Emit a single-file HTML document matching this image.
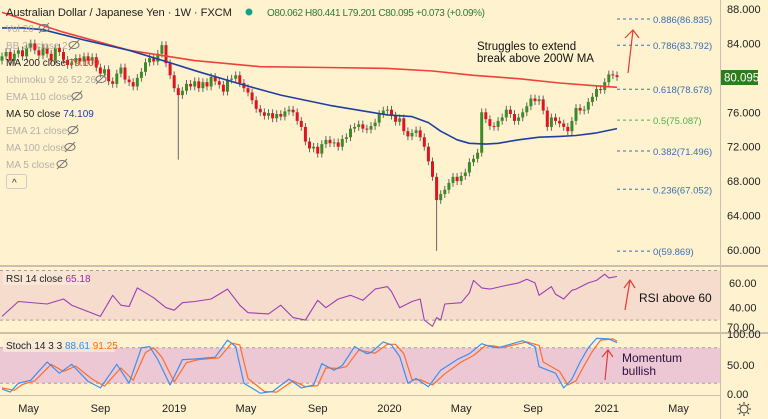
<!DOCTYPE html>
<html><head><meta charset="utf-8"><style>
html,body{margin:0;padding:0;background:#fff3cf;}
svg{display:block;font-family:"Liberation Sans",sans-serif;}
</style></head><body>
<svg id="c" width="768" height="419" viewBox="0 0 768 419">
<rect x="0" y="0" width="768" height="419" fill="#fff3cf"/>
<g id="bands"></g>
<g id="candles"></g>
<g id="lines"></g>
<g id="fib"></g>
<line x1="0" y1="266" x2="768" y2="266" stroke="#b8b0a0" stroke-width="1.5"/>
<line x1="0" y1="333" x2="768" y2="333" stroke="#b8b0a0" stroke-width="1.5"/>
<line x1="0" y1="395.5" x2="721" y2="395.5" stroke="#c8c0b0"/>
<line x1="720.5" y1="0" x2="720.5" y2="419" stroke="#c8c0b0"/>
<g id="axis" font-size="11" fill="#222"></g>
<g font-size="10">
<text x="6" y="16" font-size="11.2" fill="#222" textLength="226">Australian Dollar / Japanese Yen · 1W · FXCM</text>
<circle cx="249" cy="12" r="3.5" fill="#1a9e8a"/>
<text x="267" y="16" font-size="10" fill="#2e7d32" textLength="218">O80.062 H80.441 L79.201 C80.095 +0.073 (+0.09%)</text>
<text x="6" y="32" fill="#b5b0a8">Vol 20</text>
<text x="6" y="49" fill="#b5b0a8">BB 20 close 2</text>
<text x="6" y="66" fill="#222">MA 200 close <tspan fill="#e53935">79.109</tspan></text>
<text x="6" y="83" fill="#b5b0a8">Ichimoku 9 26 52 26</text>
<text x="6" y="100" fill="#b5b0a8">EMA 110 close</text>
<text x="6" y="117" fill="#222">MA 50 close <tspan fill="#1e3fa0">74.109</tspan></text>
<text x="6" y="134" fill="#b5b0a8">EMA 21 close</text>
<text x="6" y="151" fill="#b5b0a8">MA 100 close</text>
<text x="6" y="168" fill="#b5b0a8">MA 5 close</text>
<g fill="none" stroke="#777" stroke-width="1">
<ellipse cx="44" cy="28" rx="5" ry="3.5"/><line x1="39" y1="33" x2="49" y2="23"/>
<ellipse cx="74" cy="45" rx="5" ry="3.5"/><line x1="69" y1="50" x2="79" y2="40"/>
<ellipse cx="101" cy="79" rx="5" ry="3.5"/><line x1="96" y1="84" x2="106" y2="74"/>
<ellipse cx="77" cy="96" rx="5" ry="3.5"/><line x1="72" y1="101" x2="82" y2="91"/>
<ellipse cx="73" cy="130" rx="5" ry="3.5"/><line x1="68" y1="135" x2="78" y2="125"/>
<ellipse cx="70" cy="147" rx="5" ry="3.5"/><line x1="65" y1="152" x2="75" y2="142"/>
<ellipse cx="62" cy="164" rx="5" ry="3.5"/><line x1="57" y1="169" x2="67" y2="159"/>
</g>
<rect x="6.5" y="174.5" width="20" height="14" rx="2" fill="#fff3cf" stroke="#ccc"/>
<text x="12" y="186" font-size="10" fill="#333">^</text>
</g>
<g font-size="11.5" fill="#111">
<text x="477" y="50">Struggles to extend</text>
<text x="477" y="62">break above 200W MA</text>
<path d="M628,73 L633,30 M625,38 L633,30 L639,38" stroke="#e53935" fill="none" stroke-width="1.2"/>
<text x="639" y="302" font-size="12">RSI above 60</text>
<path d="M625,310 L630,280 M624,288 L630,280 L635,288" stroke="#e53935" fill="none" stroke-width="1.2"/>
<text x="622" y="362" font-size="12" fill="#2a1040">Momentum</text>
<text x="622" y="375" font-size="12" fill="#2a1040">bullish</text>
<path d="M605,380 L608,350 M602,357 L608,350 L613,357" stroke="#e53935" fill="none" stroke-width="1.2"/>
</g>
<g font-size="10" fill="#222">
<rect x="3" y="271" width="84" height="14" fill="#f9ead8" opacity="0.8"/>
<text x="6" y="282">RSI 14 close <tspan fill="#9c27b0">65.18</tspan></text>
<rect x="3" y="338" width="112" height="14" fill="#f9ead8" opacity="0.8"/>
<text x="6" y="349">Stoch 14 3 3 <tspan fill="#2196f3">88.61</tspan> <tspan fill="#ff6d00">91.25</tspan></text>
</g>
<rect x="721" y="70" width="37" height="15" fill="#2e7d1a"/>
<text x="724" y="81.5" font-size="11.5" fill="#fff">80.095</text>
<g fill="none" stroke="#333"><circle cx="744" cy="409" r="4"/><path d="M744,402v2M744,414v2M737,409h2M749,409h2M739,404l1.5,1.5M747.5,412.5l1.5,1.5M739,414l1.5-1.5M747.5,405.5l1.5-1.5"/></g>
</svg>
<script>
const closes=[82.5,83,82,82.8,83.2,82.5,83.5,84.0,83.2,82.6,83.5,82.8,82.0,83.5,83.0,82.1,81.5,81.8,82.3,81.9,82.5,82.0,82.4,81.2,80.5,81.0,79.6,79.3,80.5,81.2,79.8,79.5,79.0,80.0,80.7,81.8,82.3,81.9,82.8,83.8,81.7,80.3,78.8,78.0,78.5,79.3,79.0,79.6,78.8,79.5,79.0,80.1,79.6,79.2,78.4,79.8,79.9,80.3,79.4,78.8,78.3,77.4,76.4,76.0,75.6,75.9,75.3,75.8,75.5,76.1,76.3,76.0,75.0,74.3,72.6,71.8,72.0,71.2,72.3,72.8,72.4,72.5,72.0,72.9,73.1,74.1,74.3,74.6,74.1,74.0,74.4,74.8,75.8,76.2,76.3,75.6,74.9,75.3,73.8,73.2,73.6,73.9,73.1,72.0,70.3,68.5,65.8,66.5,67.0,67.8,68.5,68.0,68.6,69.0,70.2,70.6,71.3,76.0,75.2,74.4,74.3,75.0,75.4,76.3,75.8,75.0,75.4,76.0,76.7,77.6,77.3,77.5,76.2,74.3,75.4,75.0,74.7,74.3,73.8,75.0,76.5,76.2,76.3,77.2,77.8,78.7,78.6,79.5,80.4,80.3,80.1];
const firstOpen=82.0;
const wickLowWeeks=[43,106];
const wickLowVals=[70.5,59.9];
const ma200Weeks=[0,15,31,47,63,79,94,105,115,126,136,144,150];
const ma200Vals=[87.6,85.3,83.2,82.0,81.3,81.2,81.1,80.8,80.3,79.9,79.4,79.1,78.9];
const ma50Weeks=[0,5,10,20,31,40,48,58,68,80,94,100,104,107,111,114,118,121,126,131,136,140,145,150];
const ma50Vals=[85.8,85.8,85.6,84.4,83.2,81.9,80.7,79.3,78.0,76.8,75.7,75.5,74.8,73.8,72.8,72.4,72.3,72.4,72.8,73.1,73.2,73.3,73.6,74.1];
const fibRatios=["0.886","0.786","0.618","0.5","0.382","0.236","0"];
const fibPrices=[86.835,83.792,78.678,75.087,71.496,67.052,59.869];
const priceTicks=[88,84,76,72,68,64,60];
const rsiWeeks=[0,4,11,15,17,24,27,29,31,33,35,37,40,42,44,47,51,55,58,60,65,68,71,74,77,79,82,85,88,91,94,95,97,100,102,103,105,106,107,108,112,114,115,117,119,123,126,128,130,131,134,135,137,139,140,143,145,147,148,150];
const rsiVals=[33,45,43,47,42,33,50,42,41,56,52,48,40,38,44,45,47,55,42,36,35,42,32,30,46,40,47,50,46,55,57,53,40,45,47,30,25,32,30,43,44,52,62,56,55,58,60,63,60,50,57,51,47,54,55,60,62,67,64,65.2];
const rsiTicks=[60,40];
const kWeeks=[0,2,4,7,11,14,17,21,24,28,31,34,36,38,41,44,47,52,55,57,59,63,66,70,73,76,78,81,83,86,89,90,93,95,97,99,101,104,107,111,114,117,119,121,127,130,131,135,137,139,141,143,145,148,150];
const kVals=[10,5,20,25,56,37,52,23,12,52,20,80,82,60,17,60,61,64,93,82,20,3,6,27,12,17,53,42,50,82,70,72,90,85,65,20,28,14,42,60,70,87,82,80,92,82,48,37,12,27,56,80,96,95,88.6];
const dWeeks=[0,3,5,8,12,15,18,22,25,29,32,35,37,39,42,45,48,53,56,58,60,64,67,71,74,77,79,82,84,87,90,91,94,96,98,100,102,105,108,112,115,118,120,122,128,131,132,136,138,140,142,144,146,149,150];
const dVals=[12,8,18,24,52,40,49,27,15,46,25,72,80,64,22,55,60,63,88,85,28,6,5,24,14,16,46,45,48,76,72,71,86,86,70,26,26,17,36,56,67,84,83,80,90,84,56,40,17,24,50,74,93,95,91.3];
const timeLabels=["May","Sep","2019","May","Sep","2020","May","Sep","2021","May"];
const timeWeeks=[6.5,24,42,59.5,77,94.5,112,129.5,147.5,165];

const NS="http://www.w3.org/2000/svg";
const xW=i=>2+i*4.1;
const yP=p=>9+(88-p)*8.607;
const yR=v=>270.5+(70-v)*1.24;
const yS=v=>336+(100-v)*0.59;
function mk(tag,attrs,parent){const e=document.createElementNS(NS,tag);for(const k in attrs)e.setAttribute(k,attrs[k]);parent.appendChild(e);return e;}
const bands=document.getElementById('bands');
let r1=mk('rect',{x:0,y:yR(70),width:720,height:yR(30)-yR(70),fill:'#f6dccc'},bands);


let r2=mk('rect',{x:0,y:yS(80),width:720,height:yS(20)-yS(80),fill:'#ecc8d4'},bands);


[[yR(70)],[yR(30)],[yS(80)],[yS(20)]].forEach(([y])=>mk('line',{x1:0,x2:720,y1:y,y2:y,stroke:'#a89aa8','stroke-dasharray':'3,3'},bands));

const cg=document.getElementById('candles');
closes.forEach((c,i)=>{
  const o=i===0?firstOpen:closes[i-1];
  let hi=Math.max(o,c)+0.45, lo=Math.min(o,c)-0.45;
  const wi=wickLowWeeks.indexOf(i); if(wi>=0) lo=wickLowVals[wi];
  const col=c>=o?'#3d8a28':'#e0141e';
  const x=xW(i);
  const w=mk('line',{x1:x,x2:x,y1:yP(hi),y2:yP(lo),stroke:'#666','stroke-width':1},cg);
  
  
  const b=mk('rect',{x:x-1.5,y:yP(Math.max(o,c)),width:3,height:Math.max(1,Math.abs(yP(o)-yP(c))),fill:col},cg);
  
  
});
const lg=document.getElementById('lines');
function poly(ws,vs,fy,color,name,sw){
  const pts=ws.map((w,i)=>xW(w).toFixed(1)+','+fy(vs[i]).toFixed(1)).join(' ');
  const p=mk('polyline',{points:pts,fill:'none',stroke:color,'stroke-width':sw||1.5,'stroke-linejoin':'round'},lg);
  
  
}
poly(ma200Weeks,ma200Vals,yP,'#f0403a','ma200-line',1.6);
poly(ma50Weeks,ma50Vals,yP,'#1e3fa0','ma50-line',1.6);
poly(rsiWeeks,rsiVals,yR,'#9c3fb5','rsi-line',1.1);
poly(dWeeks,dVals,yS,'#ff6d2a','stoch-d-line',1.2);
poly(kWeeks,kVals,yS,'#3d8ff0','stoch-k-line',1.2);

const fg=document.getElementById('fib');
fibPrices.forEach((p,i)=>{
  const y=yP(p);const col=fibRatios[i]==="0.5"?'#4caf50':'#3a6db5';
  const l=mk('line',{x1:617,x2:650,y1:y,y2:y,stroke:col,'stroke-dasharray':'3,3'},fg);
  
  
  const t=mk('text',{x:653,y:y+4,'font-size':9.5,fill:col},fg);
  t.textContent=fibRatios[i]+'('+p.toFixed(3)+')';
  
  
});
const ag=document.getElementById('axis');
priceTicks.forEach(p=>{const t=mk('text',{x:727,y:yP(p)+4},ag);t.textContent=p.toFixed(3);

});
rsiTicks.forEach(v=>{const t=mk('text',{x:729,y:yR(v)+4},ag);t.textContent=v.toFixed(2);

});
[["70.00",331],["100.00",338],["50.00",369],["0.00",398]].forEach(([s,y])=>{const t=mk('text',{x:727,y:y},ag);t.textContent=s;

});
timeLabels.forEach((s,i)=>{const t=mk('text',{x:xW(timeWeeks[i]),y:412,'text-anchor':'middle'},ag);t.textContent=s;

});
</script>
</body></html>
